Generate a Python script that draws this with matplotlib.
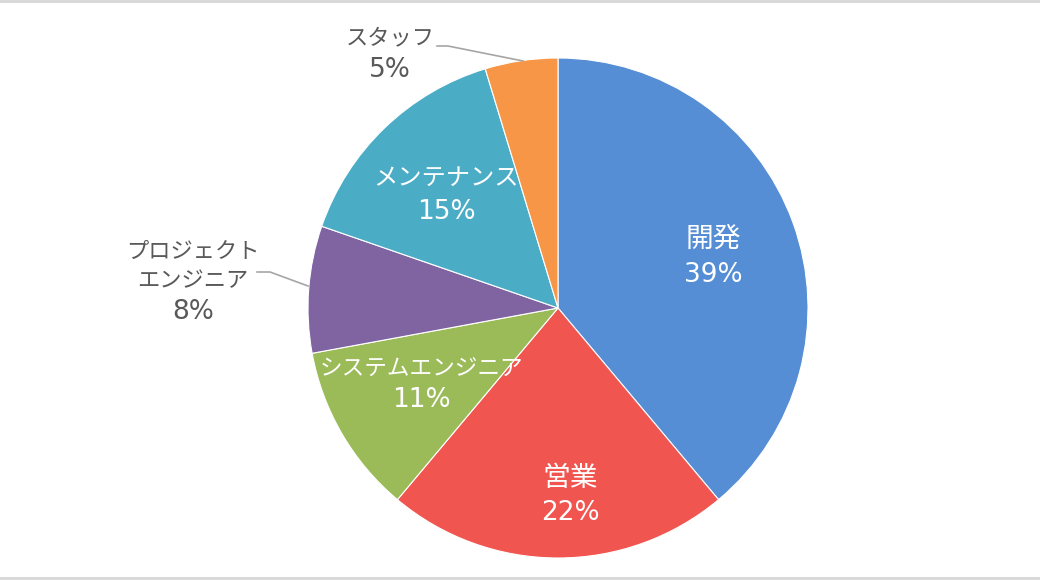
import matplotlib
matplotlib.use("Agg")
import matplotlib.pyplot as plt
from matplotlib.lines import Line2D

plt.rcParams['font.family'] = ['Noto Sans CJK JP', 'DejaVu Sans']

categories = ["開発", "営業", "システムエンジニア", "プロジェクト\nエンジニア", "メンテナンス", "スタッフ"]
values = [38.9, 22.2, 11.0, 8.2, 15.0, 4.7]
colors = ["#558ED5", "#F15550", "#9BBB59", "#8064A2", "#4BACC6", "#F79646"]

W, H = 1040, 580
fig = plt.figure(figsize=(W / 100, H / 100), dpi=100)
ax = fig.add_axes([0, 0, 1, 1])

cx, cy, r = 558, H - 308, 250
ax.pie(values, colors=colors, startangle=90, counterclock=False,
       center=(cx, cy), radius=r, frame=True,
       wedgeprops=dict(edgecolor='white', linewidth=0.8))
ax.set_xlim(0, W)
ax.set_ylim(0, H)
ax.set_aspect('equal')
ax.axis('off')

# label layout: (x, name-line y, pct-line y, colour, name fontsize), y from top
GRAY = '#595959'
label_pos = [(713, 239, 275, 'white', 20), (570, 478, 513, 'white', 20),
             (421, 369, 400, 'white', 16.3), (193, 266, 312, GRAY, 16),
             (446, 178, 212, 'white', 17.5), (390, 38, 70, GRAY, 16)]
for cat, v, (x, yn, yp, col, fs) in zip(categories, values, label_pos):
    ax.text(x, H - yn, cat, ha='center', va='center', color=col,
            fontsize=fs, family=['Noto Sans CJK JP'], linespacing=1.38)
    ax.text(x, H - yp, f"{round(v)}%", ha='center', va='center', color=col,
            fontsize=19, family=['DejaVu Sans'])

# leader lines
ax.add_line(Line2D([437, 448, 523], [H - 46, H - 46, H - 61], color='#A6A6A6', lw=1.2))
ax.add_line(Line2D([257, 270, 308], [H - 272, H - 272, H - 286], color='#A6A6A6', lw=1.2))

# top and bottom border bars
ax.add_patch(plt.Rectangle((0, H - 3), W, 3, color='#D9D9D9', lw=0))
ax.add_patch(plt.Rectangle((0, 0), W, 3, color='#D9D9D9', lw=0))

fig.savefig("out.png", dpi=100)
